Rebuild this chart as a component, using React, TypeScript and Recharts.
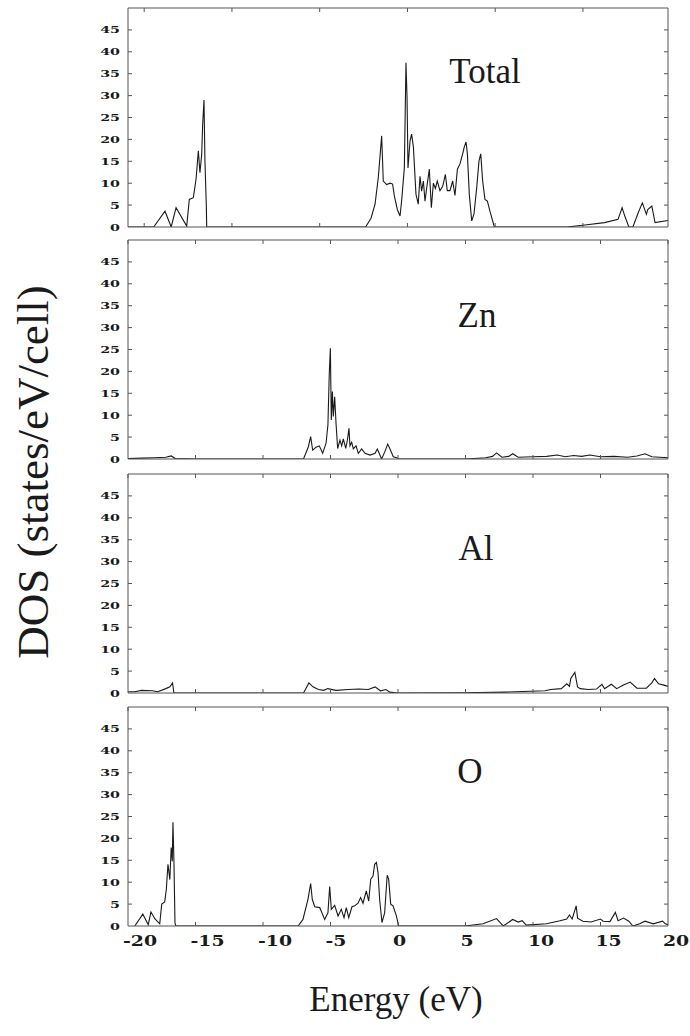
import React from 'react';
import {LineChart, Line, XAxis, YAxis} from 'recharts';

// tick values
const energyTicks = [-20, -15, -10, -5, 0, 5, 10, 15, 20];
const dosTicks = [0, 5, 10, 15, 20, 25, 30, 35, 40, 45];
// the Total panel frame has its own odd tick spacing
const totalFrameTicks = [-18.8, -12.3, -5.8, 0.7, 7.2, 13.7];

// [energy (eV), DOS (states/eV/cell)]
const totalDos = [
    [-20, 0], [-18.1, 0], [-17.26, 3.6], [-16.8, 0], [-16.44, 4.4], [-15.65, 0.2],
    [-15.46, 6.3], [-15.16, 6.7], [-14.96, 10.9], [-14.79, 17.4], [-14.67, 12.4],
    [-14.54, 16.6], [-14.47, 23.4], [-14.37, 29], [-14.3, 15], [-14.2, 5], [-14.17, 0],
    [-2.4, 0], [-2.0, 2], [-1.7, 5.2], [-1.46, 11.3], [-1.21, 20.8], [-1.09, 10.5],
    [-0.84, 9.7], [-0.59, 10], [-0.4, 9.8], [-0.27, 7.1], [-0.05, 4], [0.15, 2.5],
    [0.27, 6], [0.47, 13.5], [0.59, 37.5], [0.67, 29.5], [0.74, 13.5], [0.89, 19.6],
    [1.01, 21.2], [1.14, 18.3], [1.33, 7.5], [1.5, 5.2], [1.63, 11.6], [1.75, 8.2],
    [1.88, 10.5], [2.0, 5.9], [2.12, 8.8], [2.32, 13.2], [2.47, 4.4], [2.62, 10],
    [2.77, 8.8], [2.91, 10.5], [3.11, 8.3], [3.31, 9.3], [3.51, 12], [3.65, 8.3],
    [3.85, 8.3], [4.05, 10.5], [4.22, 7.2], [4.4, 13.2], [4.59, 14.4], [4.79, 16.7],
    [4.91, 18.3], [5.04, 19.4], [5.14, 16.7], [5.28, 7.5], [5.46, 1.4], [5.63, 3],
    [5.83, 9], [6.0, 15.1], [6.13, 16.7], [6.27, 10.5], [6.44, 6.3], [6.62, 5.9],
    [6.81, 3.6], [7.01, 1.4], [7.14, 0], [12.5, 0], [14.0, 0.5], [15.3, 1.0],
    [16.3, 1.75], [16.6, 4.4], [16.8, 2.5], [17.1, 0], [17.4, 0], [17.8, 3.3],
    [18.1, 5.5], [18.4, 2.9], [18.5, 4.0], [18.8, 4.8], [19.04, 1.0], [20, 1.5],
];

const znDos = [
    [-20, 0.1], [-19, 0.2], [-18, 0.3], [-17.2, 0.4], [-16.8, 0.7], [-16.5, 0.1],
    [-15, 0], [-7.0, 0], [-6.64, 2.8], [-6.47, 5.1], [-6.32, 2], [-6.07, 2.7],
    [-5.83, 3.0], [-5.58, 1.3], [-5.33, 3.6], [-5.19, 7.8], [-5.09, 19.6],
    [-5.01, 25.3], [-4.94, 8.9], [-4.86, 15.4], [-4.79, 9.7], [-4.69, 14.2],
    [-4.59, 8.1], [-4.47, 2.4], [-4.3, 4.3], [-4.17, 3.0], [-4.05, 4.6], [-3.87, 2.4],
    [-3.75, 4.3], [-3.63, 7.0], [-3.56, 3.0], [-3.43, 3.8], [-3.31, 2.3], [-3.11, 3.0],
    [-2.94, 1.3], [-2.69, 2.3], [-2.44, 1.3], [-2.07, 0.9], [-1.7, 1.3], [-1.53, 2.3],
    [-1.21, 0], [-0.96, 1.8], [-0.76, 3.4], [-0.59, 2.3], [-0.35, 0.5], [-0.1, 0.3],
    [0.05, 0], [5, 0], [6.5, 0.3], [7.0, 0.6], [7.3, 1.4], [7.7, 0.4], [8.2, 0.6],
    [8.5, 1.2], [8.9, 0.4], [10, 0.5], [11, 0.6], [11.8, 0.9], [12.4, 0.5], [13, 0.8],
    [13.6, 0.6], [14.2, 0.9], [15, 0.5], [16, 0.6], [17, 0.4], [17.7, 0.7], [18.3, 1.2],
    [18.8, 0.5], [20, 0.3],
];

const alDos = [
    [-20, 0.3], [-19.5, 0.3], [-19.0, 0.6], [-18.2, 0.5], [-17.8, 0.3], [-17.2, 1.0],
    [-16.9, 1.4], [-16.7, 2.3], [-16.6, 0], [-7.0, 0], [-6.6, 2.3], [-6.3, 1.4],
    [-5.9, 0.8], [-5.5, 0.6], [-5.2, 1.0], [-4.6, 0.6], [-3.7, 0.8], [-2.9, 0.9],
    [-2.2, 0.8], [-1.7, 1.4], [-1.3, 0.5], [-0.9, 0.8], [-0.6, 0.2], [0, 0],
    [4.9, 0.05], [8.0, 0.2], [10.9, 0.5], [11.3, 0.8], [12.1, 1.0], [12.5, 2.1],
    [12.7, 1.5], [12.8, 3.3], [13.1, 4.7], [13.3, 1.4], [13.5, 1.0], [14.1, 0.8],
    [14.7, 0.9], [15.1, 2.0], [15.3, 1.0], [15.8, 2.0], [16.2, 1.0], [16.7, 1.8],
    [17.2, 2.5], [17.7, 1.1], [18.4, 1.1], [18.8, 2.3], [19.0, 3.3], [19.3, 2.1],
    [19.7, 1.8], [20, 1.5],
];

const oDos = [
    [-19.5, 0], [-18.9, 2.7], [-18.5, 0.3], [-18.3, 3.2], [-18.0, 1.6], [-17.65, 0.5],
    [-17.5, 5.0], [-17.28, 5.5], [-17.16, 8.4], [-17.04, 14.1], [-16.9, 10.6],
    [-16.8, 17.9], [-16.72, 14.8], [-16.67, 23.7], [-16.6, 15.2], [-16.52, 0.7],
    [-16.45, 0], [-7.4, 0], [-7.04, 1.5], [-6.67, 6.1], [-6.47, 9.7], [-6.35, 6.1],
    [-6.17, 4.4], [-5.8, 4.2], [-5.43, 1.5], [-5.19, 3.0], [-5.06, 9.0], [-4.94, 3.8],
    [-4.69, 4.7], [-4.44, 2.3], [-4.2, 3.8], [-4.0, 1.9], [-3.83, 4.2], [-3.65, 1.9],
    [-3.41, 4.4], [-3.21, 4.6], [-2.96, 5.2], [-2.77, 6.5], [-2.59, 5.2], [-2.35, 8.0],
    [-2.17, 5.7], [-2.02, 10.7], [-1.85, 11.4], [-1.73, 14.1], [-1.6, 14.5],
    [-1.48, 12.2], [-1.36, 6.1], [-1.19, 0.8], [-0.99, 3.0], [-0.8, 11.6], [-0.69, 10.7],
    [-0.54, 5.0], [-0.37, 4.6], [-0.12, 2.3], [0.05, 0], [4.96, 0], [6.3, 0.5],
    [7.3, 1.7], [7.8, 0], [8.5, 1.5], [8.9, 0.9], [9.2, 1.2], [9.5, 0.2], [11.0, 0.5],
    [12.0, 1.2], [12.5, 1.6], [12.7, 2.5], [12.9, 1.6], [13.2, 4.6], [13.3, 1.8],
    [13.7, 1.1], [14.3, 0.9], [15.0, 1.6], [15.2, 1.1], [15.7, 1.0], [16.1, 3.1],
    [16.3, 1.2], [16.7, 1.8], [17.1, 1.1], [17.4, 0], [17.9, 0.5], [18.3, 1.1],
    [18.9, 0.5], [19.6, 1.1], [19.8, 0.5], [20, 0.3],
];

const INK = '#1a1a1a';
const FRAME = '#555';
const PLOT_LEFT = 128;
const PLOT_RIGHT = 668;
const PLOT_H = 219;
const LEFT_W = 60;
const RIGHT_W = 10;
const TOP_H = 6;
const BOTTOM_H = 6;

const LeftTick = ({x, y, payload}: any) => (
    <g>
        {payload.value !== 0 && <line x1={x} x2={x + 4} y1={y} y2={y} stroke={FRAME} />}
        <text
            transform={`translate(${x - 8},${y + 3.5}) scale(1.5,1)`}
            textAnchor='end'
            fontFamily='DejaVu Serif'
            fontWeight='bold'
            fontSize={9.5}
            fill={INK}
        >
            {payload.value}
        </text>
    </g>
);

const RightTick = ({x, y, payload}: any) =>
    payload.value === 0 ? <g /> : <line x1={x} x2={x - 4} y1={y} y2={y} stroke={FRAME} />;

const TopTick = ({x, y}: any) => <line x1={x} x2={x} y1={y} y2={y + 4} stroke={FRAME} />;

const BottomTick = ({x, y, payload, showLabel}: any) => (
    <g>
        {Math.abs(payload.value) !== 20 && <line x1={x} x2={x} y1={y} y2={y - 4} stroke={FRAME} />}
        {showLabel && (
            <text
                transform={`translate(${x - 5},${y + 20}) scale(1.3,1)`}
                textAnchor='start'
                fontFamily='DejaVu Serif'
                fontWeight='bold'
                fontSize={14.5}
                fill={INK}
            >
                {payload.value}
            </text>
        )}
    </g>
);

const Panel = ({points, top, frameTicks, showLabels}: any) => {
    const data = points.map(([e, dos]: number[]) => ({e, dos}));
    const bottomH = showLabels ? 34 : BOTTOM_H;
    return (
        <div style={{position: 'absolute', left: 0, top: top - TOP_H - 2}}>
            <LineChart
                width={690}
                height={PLOT_H + TOP_H + bottomH + 4}
                data={data}
                margin={{top: 2, right: 690 - PLOT_RIGHT - RIGHT_W, bottom: 2, left: PLOT_LEFT - LEFT_W}}
            >
                <XAxis
                    xAxisId='bottom'
                    dataKey='e'
                    type='number'
                    domain={[-20, 20]}
                    allowDataOverflow
                    ticks={frameTicks}
                    height={bottomH}
                    tickSize={0}
                    tickMargin={0}
                    interval={0}
                    stroke={FRAME}
                    tick={(p: any) => <BottomTick {...p} showLabel={showLabels} />}
                />
                <XAxis
                    xAxisId='top'
                    orientation='top'
                    dataKey='e'
                    type='number'
                    domain={[-20, 20]}
                    allowDataOverflow
                    ticks={frameTicks}
                    height={TOP_H}
                    tickSize={0}
                    tickMargin={0}
                    interval={0}
                    stroke={FRAME}
                    tick={TopTick}
                />
                <YAxis
                    yAxisId='left'
                    type='number'
                    domain={[0, 50]}
                    allowDataOverflow
                    ticks={dosTicks}
                    width={LEFT_W}
                    tickSize={0}
                    tickMargin={0}
                    interval={0}
                    stroke={FRAME}
                    tick={LeftTick}
                />
                <YAxis
                    yAxisId='right'
                    orientation='right'
                    type='number'
                    domain={[0, 50]}
                    allowDataOverflow
                    ticks={dosTicks}
                    width={RIGHT_W}
                    tickSize={0}
                    tickMargin={0}
                    interval={0}
                    stroke={FRAME}
                    tick={RightTick}
                />
                <Line
                    xAxisId='bottom'
                    yAxisId='left'
                    dataKey='dos'
                    type='linear'
                    stroke={INK}
                    strokeWidth={1.1}
                    dot={false}
                    isAnimationActive={false}
                />
                <Line
                    xAxisId='top'
                    yAxisId='right'
                    dataKey='dos'
                    type='linear'
                    stroke='none'
                    dot={false}
                    isAnimationActive={false}
                />
            </LineChart>
        </div>
    );
};

const panels = [
    {name: 'Total', points: totalDos, top: 8, frameTicks: totalFrameTicks, lx: 485, ly: 83},
    {name: 'Zn', points: znDos, top: 240, frameTicks: energyTicks, lx: 477, ly: 327},
    {name: 'Al', points: alDos, top: 474, frameTicks: energyTicks, lx: 476, ly: 560},
    {name: 'O', points: oDos, top: 707, frameTicks: energyTicks, lx: 470, ly: 783},
];

export default function App() {
    return (
        <div style={{position: 'absolute', left: 0, top: 0, width: 690, height: 1036, background: '#fff'}}>
            {panels.map((p, i) => (
                <Panel key={p.name} points={p.points} top={p.top} frameTicks={p.frameTicks} showLabels={i === 3} />
            ))}
            <svg
                width={690}
                height={1036}
                style={{position: 'absolute', left: 0, top: 0, pointerEvents: 'none'}}
            >
                {panels.map((p) => (
                    <text
                        key={p.name}
                        x={p.lx}
                        y={p.ly}
                        textAnchor='middle'
                        fontFamily='Liberation Serif'
                        fontSize={35}
                        fill={INK}
                    >
                        {p.name}
                    </text>
                ))}
                <text
                    x={48}
                    y={472}
                    transform='rotate(-90, 48, 472)'
                    textAnchor='middle'
                    fontFamily='Liberation Serif'
                    fontSize={45}
                    fill={INK}
                >
                    DOS (states/eV/cell)
                </text>
                <text
                    x={396}
                    y={1011}
                    textAnchor='middle'
                    fontFamily='Liberation Serif'
                    fontSize={35}
                    fill={INK}
                >
                    Energy (eV)
                </text>
            </svg>
        </div>
    );
}
